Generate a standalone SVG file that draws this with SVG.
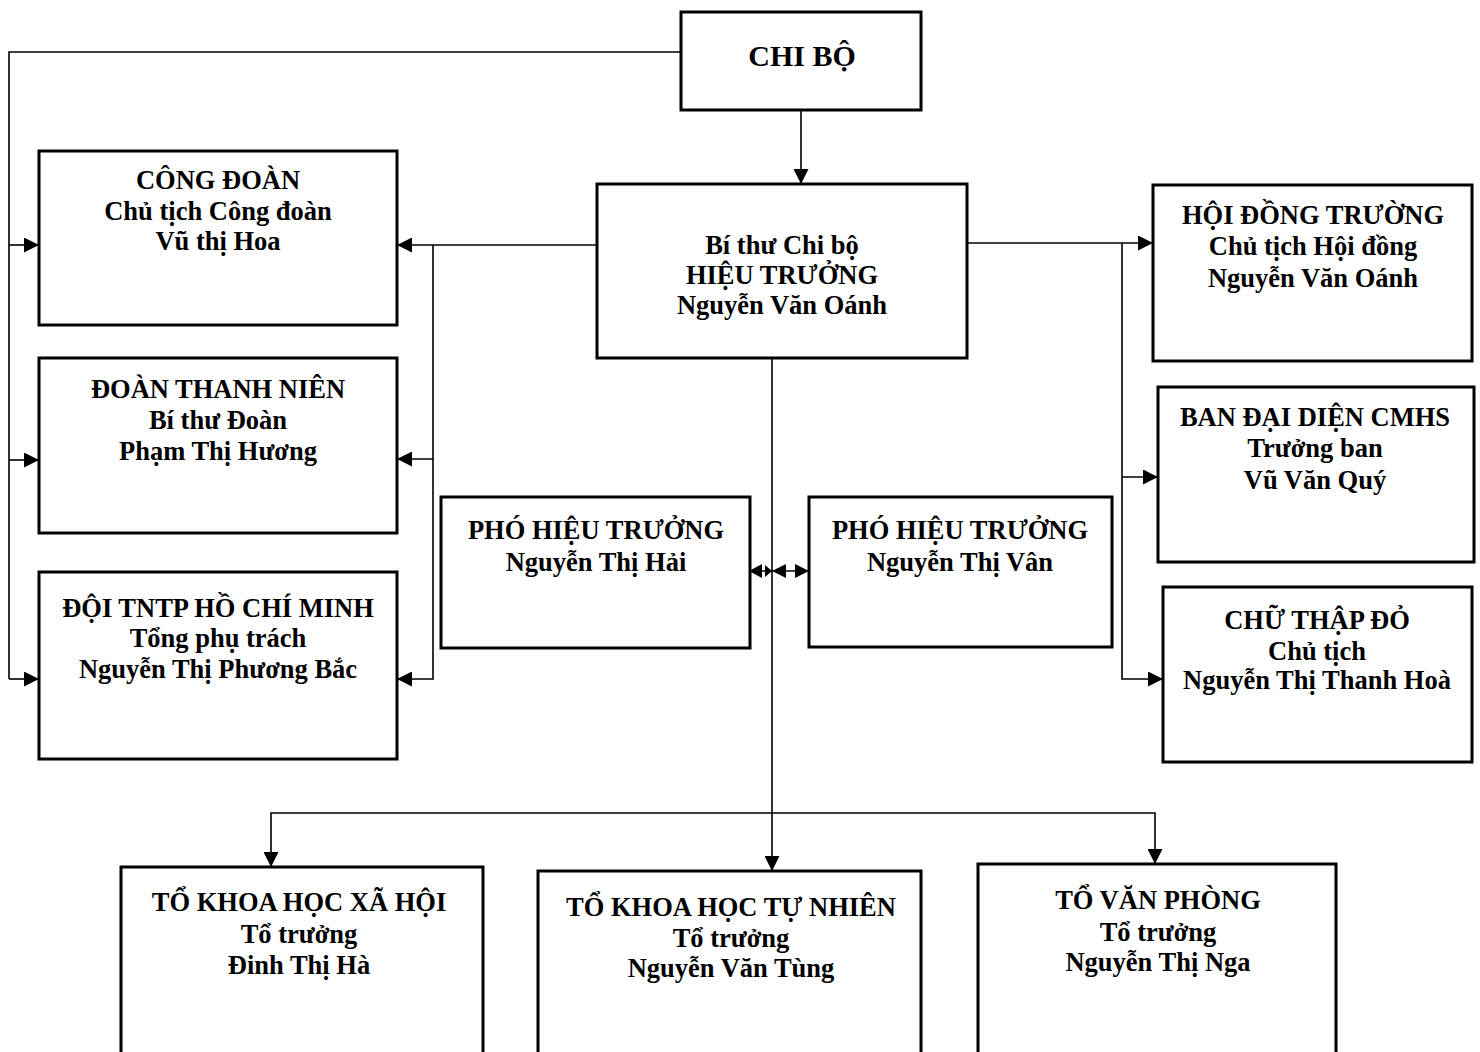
<svg xmlns="http://www.w3.org/2000/svg" width="1480" height="1052" viewBox="0 0 1480 1052">
<style>
.box{fill:#fff;stroke:#000;stroke-width:3}
.ln{fill:none;stroke:#000;stroke-width:1.6}
.tri{fill:#000}
text{font-family:"Liberation Serif","Times New Roman",serif;font-weight:bold;font-size:26.5px;fill:#000;text-anchor:middle}
</style>
<defs>
<marker id="ah" markerUnits="userSpaceOnUse" markerWidth="15" markerHeight="15" refX="15" refY="7.5" orient="auto-start-reverse" viewBox="0 0 15 15">
<path d="M0,0 L15,7.5 L0,15 z" fill="#000"/>
</marker>
</defs>
<rect width="1480" height="1052" fill="#fff"/>
<g id="connectors">
<path class="ln" d="M681,52 H9 V679"/>
<path class="ln" d="M9,245 H39" marker-end="url(#ah)"/>
<path class="ln" d="M9,460 H39" marker-end="url(#ah)"/>
<path class="ln" d="M9,679 H39" marker-end="url(#ah)"/>
<path class="ln" d="M801,110 V184" marker-end="url(#ah)"/>
<path class="ln" d="M597,245 H397" marker-end="url(#ah)"/>
<path class="ln" d="M433,245 V679 H397" marker-end="url(#ah)"/>
<path class="ln" d="M433,459 H397" marker-end="url(#ah)"/>
<path class="ln" d="M967,243 H1153" marker-end="url(#ah)"/>
<path class="ln" d="M1122,243 V679 H1163" marker-end="url(#ah)"/>
<path class="ln" d="M1122,477 H1158" marker-end="url(#ah)"/>
<path class="ln" d="M772,358 V871" marker-end="url(#ah)"/>
<path class="ln" d="M750,571 H809"/>
<path class="tri" d="M749,571 L762,564 L762,578 z M772,571 L765,565 L765,577 z M772,571 L786,564 L786,578 z M809,571 L795,564 L795,578 z"/>
<path class="ln" d="M271,867 V813 H1155 V864" marker-start="url(#ah)" marker-end="url(#ah)"/>
</g>
<g id="chibo"><rect class="box" x="681" y="12" width="240" height="98"/><text x="802" y="66" style="font-size:30px">CHI BỘ</text></g>
<g id="hieutruong"><rect class="box" x="597" y="184" width="370" height="174"/>
<text x="782" y="254">Bí thư Chi bộ</text><text x="782" y="284">HIỆU TRƯỞNG</text><text x="782" y="314">Nguyễn Văn Oánh</text></g>
<g id="congdoan"><rect class="box" x="39" y="151" width="358" height="174"/>
<text x="218" y="189">CÔNG ĐOÀN</text><text x="218" y="220">Chủ tịch Công đoàn</text><text x="218" y="250">Vũ thị Hoa</text></g>
<g id="doanthanhnien"><rect class="box" x="39" y="358" width="358" height="175"/>
<text x="218" y="398">ĐOÀN THANH NIÊN</text><text x="218" y="429">Bí thư Đoàn</text><text x="218" y="460">Phạm Thị Hương</text></g>
<g id="doitntp"><rect class="box" x="39" y="572" width="358" height="187"/>
<text x="218" y="617">ĐỘI TNTP HỒ CHÍ MINH</text><text x="218" y="647">Tổng phụ trách</text><text x="218" y="678">Nguyễn Thị Phương Bắc</text></g>
<g id="phohieutruong1"><rect class="box" x="441" y="497" width="309" height="151"/>
<text x="596" y="539">PHÓ HIỆU TRƯỞNG</text><text x="596" y="571">Nguyễn Thị Hải</text></g>
<g id="phohieutruong2"><rect class="box" x="809" y="497" width="303" height="150"/>
<text x="960" y="539">PHÓ HIỆU TRƯỞNG</text><text x="960" y="571">Nguyễn Thị Vân</text></g>
<g id="hoidongtruong"><rect class="box" x="1153" y="185" width="319" height="176"/>
<text x="1313" y="224">HỘI ĐỒNG TRƯỜNG</text><text x="1313" y="255">Chủ tịch Hội đồng</text><text x="1313" y="287">Nguyễn Văn Oánh</text></g>
<g id="bandaidien"><rect class="box" x="1158" y="387" width="316" height="175"/>
<text x="1315" y="426">BAN ĐẠI DIỆN CMHS</text><text x="1315" y="457">Trưởng ban</text><text x="1315" y="489">Vũ Văn Quý</text></g>
<g id="chuthapdo"><rect class="box" x="1163" y="587" width="309" height="175"/>
<text x="1317" y="629">CHỮ THẬP ĐỎ</text><text x="1317" y="660">Chủ tịch</text><text x="1317" y="689">Nguyễn Thị Thanh Hoà</text></g>
<g id="tokhxh"><rect class="box" x="121" y="867" width="362" height="200"/>
<text x="299" y="911">TỔ KHOA HỌC XÃ HỘI</text><text x="299" y="943">Tổ trưởng</text><text x="299" y="974">Đinh Thị Hà</text></g>
<g id="tokhtn"><rect class="box" x="538" y="871" width="383" height="200"/>
<text x="731" y="916">TỔ KHOA HỌC TỰ NHIÊN</text><text x="731" y="947">Tổ trưởng</text><text x="731" y="977">Nguyễn Văn Tùng</text></g>
<g id="tovanphong"><rect class="box" x="978" y="864" width="358" height="200"/>
<text x="1158" y="909">TỔ VĂN PHÒNG</text><text x="1158" y="941">Tổ trưởng</text><text x="1158" y="971">Nguyễn Thị Nga</text></g>
</svg>
